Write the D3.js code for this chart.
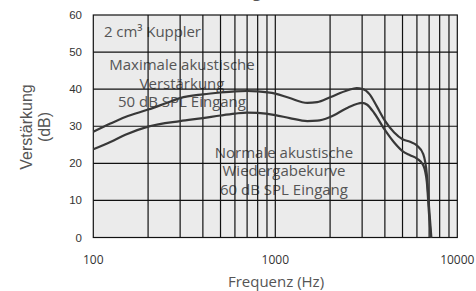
<!DOCTYPE html>
<html>
<head>
<meta charset="utf-8">
<script src="https://cdn.jsdelivr.net/npm/d3@7"></script>
<style>
  html, body { margin: 0; padding: 0; background: #ffffff; }
  svg { display: block; }
</style>
</head>
<body>
<svg id="chart" width="476" height="291"></svg>
<script>
// ---- data ----
const freqMax = [100, 125, 150, 200, 250, 300, 400, 500, 600, 700, 800, 1000, 1200, 1500, 1700, 2000, 2500, 2800, 3000, 3300, 3600, 4000, 4500, 5000, 5500, 6000, 6500, 6800, 7000, 7200];
const gainMax = [28.5, 30.8, 32.5, 34.5, 36.2, 37.6, 38.6, 39.1, 39.4, 39.5, 39.4, 38.8, 37.6, 36.3, 36.5, 37.8, 39.7, 40.3, 40.1, 38.6, 35.5, 31.5, 28.3, 26.5, 25.8, 24.8, 22.5, 17, 8, 0];
const freqNorm = [100, 125, 150, 200, 300, 400, 500, 600, 700, 800, 1000, 1200, 1500, 1700, 2000, 2500, 3000, 3200, 3500, 4000, 4500, 5000, 5500, 6000, 6500, 6800, 7000, 7150];
const gainNorm = [23.8, 25.8, 27.7, 29.9, 31.4, 32.2, 32.9, 33.4, 33.7, 33.6, 33.0, 32.2, 31.4, 31.5, 32.5, 35.0, 36.3, 35.8, 33.5, 29.0, 25.6, 23.3, 22.2, 21.3, 19.5, 15, 6, 0];
const yTicks = [0, 10, 20, 30, 40, 50, 60];
const xTickLabels = [100, 1000, 10000];
const xGrid = [200, 300, 400, 500, 600, 700, 800, 900, 1000, 2000, 3000, 4000, 5000, 6000, 7000, 8000, 9000];
const titleText = "Akustische Wiedergabekurven";
const couplerLabel = "2 cm³ Kuppler";
const maxLabel = ["Maximale akustische", "Verstärkung", "50 dB SPL Eingang"];
const normLabel = ["Normale akustische", "Wiedergabekurve", "60 dB SPL Eingang"];
const xTitle = "Frequenz (Hz)";
const yTitle = ["Verstärkung", "(dB)"];

// ---- layout ----
const pL = 93.3, pR = 457.3, pT = 15, pB = 237.5;
const svg = d3.select("#chart");
const x = d3.scaleLog().domain([100, 10000]).range([pL, pR]);
const y = d3.scaleLinear().domain([0, 60]).range([pB, pT]);

// title (mostly cut off at top, as in the reference)
svg.append("text").attr("x", 228).attr("y", -3)
  .attr("text-anchor", "middle")
  .attr("font-family", "'Open Sans', sans-serif").attr("font-size", 16)
  .attr("fill", "#555").text(titleText);

// background
svg.append("rect").attr("x", pL).attr("y", pT)
  .attr("width", pR - pL).attr("height", pB - pT)
  .attr("fill", "#ebebeb");

// annotation texts (under grid)
const annFont = "'Open Sans', sans-serif";
svg.append("text").attr("x", 104).attr("y", 37)
  .attr("font-family", annFont).attr("font-size", 15).attr("fill", "#555")
  .attr("textLength", 97).attr("lengthAdjust", "spacing")
  .text(couplerLabel);
maxLabel.forEach((t, i) => {
  svg.append("text").attr("x", 182).attr("y", 70 + i * 18.5)
    .attr("text-anchor", "middle")
    .attr("font-family", annFont).attr("font-size", 15).attr("fill", "#555")
    .text(t);
});
normLabel.forEach((t, i) => {
  svg.append("text").attr("x", 284).attr("y", 157.5 + i * 18.5)
    .attr("text-anchor", "middle")
    .attr("font-family", annFont).attr("font-size", 15).attr("fill", "#555")
    .text(t);
});

// grid
const grid = svg.append("g").attr("stroke", "#111").attr("stroke-width", 1.2);
xGrid.forEach(f => {
  grid.append("line").attr("x1", x(f)).attr("x2", x(f)).attr("y1", pT).attr("y2", pB);
});
yTicks.filter(v => v > 0 && v < 60).forEach(v => {
  grid.append("line").attr("x1", pL).attr("x2", pR).attr("y1", y(v)).attr("y2", y(v));
});
svg.append("rect").attr("x", pL).attr("y", pT)
  .attr("width", pR - pL).attr("height", pB - pT)
  .attr("fill", "none").attr("stroke", "#111").attr("stroke-width", 1.2);

// curves
const line = d3.line().curve(d3.curveMonotoneX);
function drawCurve(fs, gs) {
  const pts = fs.map((f, i) => [x(f), y(gs[i])]);
  svg.append("path").attr("d", line(pts))
    .attr("fill", "none").attr("stroke", "#383838").attr("stroke-width", 2.2)
    .attr("stroke-linejoin", "round");
}
drawCurve(freqMax, gainMax);
drawCurve(freqNorm, gainNorm);

// y axis tick labels
yTicks.forEach(v => {
  svg.append("text").attr("x", 82).attr("y", y(v)).attr("dy", "0.35em")
    .attr("text-anchor", "end")
    .attr("font-family", "'Liberation Sans', Arial, sans-serif").attr("font-size", 11.5)
    .attr("fill", "#333").text(v);
});
// x axis tick labels
xTickLabels.forEach(v => {
  svg.append("text").attr("x", x(v)).attr("y", 264)
    .attr("text-anchor", "middle")
    .attr("font-family", annFont).attr("font-size", 12).attr("fill", "#333")
    .text(v);
});
// axis titles
svg.append("text").attr("x", 276).attr("y", 287)
  .attr("text-anchor", "middle")
  .attr("font-family", annFont).attr("font-size", 15).attr("fill", "#555")
  .text(xTitle);
const yt = svg.append("g").attr("transform", "translate(32,127) rotate(-90)");
yTitle.forEach((t, i) => {
  yt.append("text").attr("x", 0).attr("y", i * 18)
    .attr("text-anchor", "middle")
    .attr("font-family", "'Liberation Sans', Arial, sans-serif").attr("font-size", 16)
    .attr("fill", "#555").text(t);
});
</script>
</body>
</html>
